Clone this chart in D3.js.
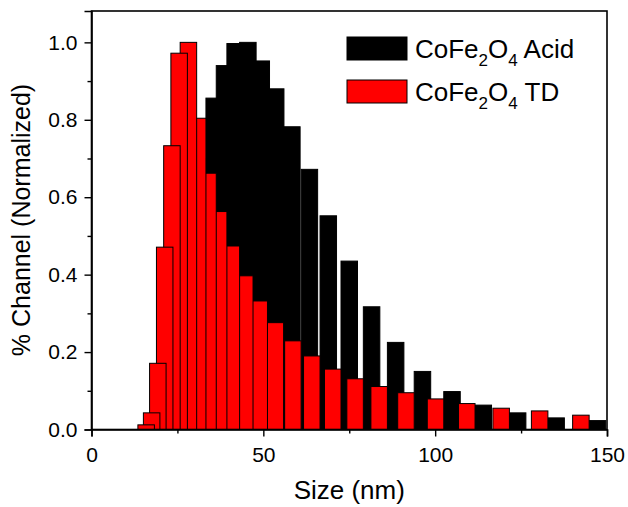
<!DOCTYPE html>
<html>
<head>
<meta charset="utf-8">
<script src="https://cdn.jsdelivr.net/npm/d3@7"></script>
<style>
  body { margin: 0; background: #fff; }
  svg { display: block; font-family: "Liberation Sans", Arial, sans-serif; }
</style>
</head>
<body>
<div id="chart"></div>
<script>
// bin centres (nm), shared by both samples
const sizes = [18.3, 19.9, 21.7, 23.7, 25.8, 27.9, 30.6, 33.3, 36.3, 39.4, 43.1, 47.0, 51.2,
  55.9, 61.0, 66.5, 72.6, 79.1, 86.1, 93.9, 102.5, 111.6, 121.6, 132.8, 144.8];
// CoFe2O4 Acid (first bins are hidden behind the red bars, estimated)
const acid = [0.0, 0.01, 0.05, 0.15, 0.32, 0.52, 0.70, 0.856, 0.94, 0.997, 1.0, 0.952, 0.88,
  0.782, 0.672, 0.552, 0.435, 0.317, 0.225, 0.150, 0.098, 0.063, 0.043, 0.030, 0.023];
// CoFe2O4 TD
const td = [0.012, 0.043, 0.171, 0.471, 0.733, 0.972, 1.0, 0.804, 0.662, 0.563, 0.474, 0.397, 0.332,
  0.276, 0.229, 0.190, 0.156, 0.131, 0.111, 0.095, 0.079, 0.067, 0.055, 0.048, 0.037];

const xTicks = [0, 50, 100, 150];
const xMinor = [25, 75, 125];
const yTicks = [0, 0.2, 0.4, 0.6, 0.8, 1.0];
const yMinor = [0.1, 0.3, 0.5, 0.7, 0.9];

const width = 628, height = 507;
const margin = { top: 11, right: 21, bottom: 77.5, left: 91.5 };

const svg = d3.select("#chart").append("svg")
  .attr("width", width)
  .attr("height", height);

const x = d3.scaleLinear().domain([0, 150]).range([margin.left, width - margin.right]);
const y = d3.scaleLinear().domain([0, 1.081]).range([height - margin.bottom, margin.top]);

const barW = x(4.8) - x(0);

// black bars sit right of the bin centre, red bars left of it
svg.append("g")
  .selectAll("rect")
  .data(sizes.map((s, i) => ({ s, v: acid[i] })))
  .join("rect")
  .attr("x", d => x(d.s))
  .attr("y", d => y(d.v))
  .attr("width", barW)
  .attr("height", d => y(0) - y(d.v))
  .attr("fill", "#000")
  .attr("stroke", "#000")
  .attr("stroke-width", 1);

// drawn last-to-first so the smaller sizes stay on top
svg.append("g")
  .selectAll("rect")
  .data(sizes.map((s, i) => ({ s, v: td[i] })).reverse())
  .join("rect")
  .attr("x", d => x(d.s) - barW)
  .attr("y", d => y(d.v))
  .attr("width", barW)
  .attr("height", d => y(0) - y(d.v))
  .attr("fill", "#ff0000")
  .attr("stroke", "#000")
  .attr("stroke-width", 1);

// frame
svg.append("rect")
  .attr("x", x(0)).attr("y", margin.top)
  .attr("width", x(150) - x(0)).attr("height", y(0) - margin.top)
  .attr("fill", "none").attr("stroke", "#000").attr("stroke-width", 1.6);

// axes
svg.append("g")
  .attr("transform", `translate(0,${y(0)})`)
  .call(d3.axisBottom(x).tickValues(xTicks).tickSize(7).tickPadding(11).tickFormat(d3.format("d")));
svg.append("g")
  .attr("transform", `translate(0,${y(0)})`)
  .call(d3.axisBottom(x).tickValues(xMinor).tickSize(4).tickFormat(""))
  .call(g => g.select(".domain").remove());

svg.append("g")
  .attr("transform", `translate(${x(0)},0)`)
  .call(d3.axisLeft(y).tickValues(yTicks).tickSize(7).tickPadding(7).tickFormat(d3.format(".1f")));
svg.append("g")
  .attr("transform", `translate(${x(0)},0)`)
  .call(d3.axisLeft(y).tickValues(yMinor).tickSize(4).tickFormat(""))
  .call(g => g.select(".domain").remove());

svg.selectAll(".domain").attr("stroke-width", 1.6);
svg.selectAll(".tick line").attr("stroke-width", 1.4);
svg.selectAll(".tick text")
  .attr("font-size", 21)
  .attr("font-family", "Liberation Sans, Arial, sans-serif")
  .attr("fill", "#000");

// axis titles
svg.append("text")
  .attr("x", (x(0) + x(150)) / 2)
  .attr("y", 499)
  .attr("text-anchor", "middle")
  .attr("font-size", 26)
  .text("Size (nm)");

svg.append("text")
  .attr("transform", "translate(30,220) rotate(-90)")
  .attr("text-anchor", "middle")
  .attr("font-size", 25)
  .text("% Channel (Normalized)");

// legend
const legend = [
  { label: " Acid", fill: "#000" },
  { label: " TD", fill: "#ff0000" }
];
const lg = svg.append("g").attr("transform", "translate(347,37)");
legend.forEach((d, i) => {
  const row = lg.append("g").attr("transform", `translate(0,${i * 43})`);
  row.append("rect")
    .attr("width", 60).attr("height", 23)
    .attr("fill", d.fill).attr("stroke", "#000").attr("stroke-width", 1);
  const t = row.append("text")
    .attr("x", 68).attr("y", 21)
    .attr("font-size", 26);
  t.append("tspan").text("CoFe");
  t.append("tspan").attr("font-size", 17).attr("dy", 8).text("2");
  t.append("tspan").attr("dy", -8).text("O");
  t.append("tspan").attr("font-size", 17).attr("dy", 8).text("4");
  t.append("tspan").attr("dy", -8).text(d.label);
});
</script>
</body>
</html>
